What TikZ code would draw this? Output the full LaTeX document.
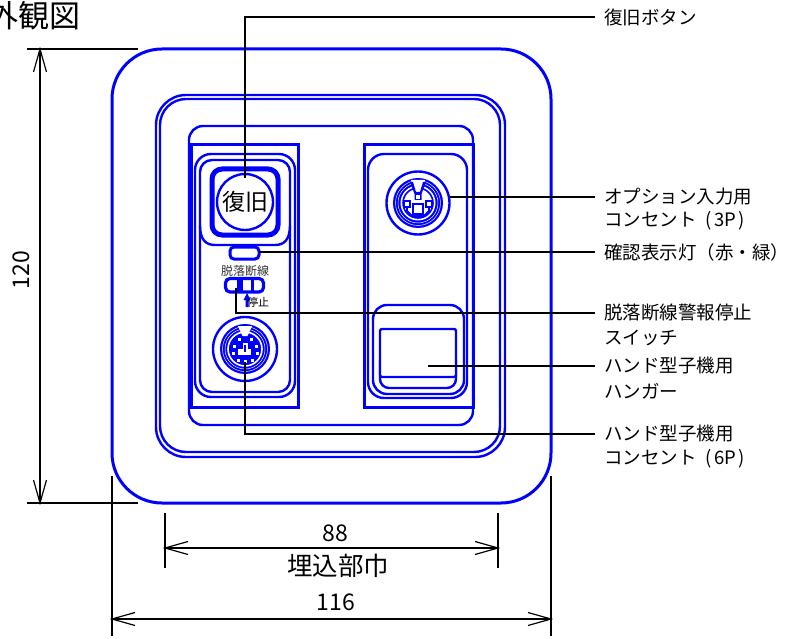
\documentclass[tikz,border=0pt]{standalone}
\usepackage{fontspec}
\setmainfont{Noto Sans CJK JP}
\tikzset{
 blue1/.style={draw=blue,line width=2.4pt},
 blue2/.style={draw=blue,line width=3pt},
 ld/.style={draw=black,line width=1.2pt},
 dim/.style={draw=black,line width=1.2pt},
 lbl/.style={anchor=west,inner xsep=9pt,inner ysep=0pt,font=\fontsize{18.5}{20}\selectfont,text=black},
 dimt/.style={inner sep=0pt,font=\fontsize{23}{25}\selectfont,text=black},
}
\newcommand{\hw}[1]{\makebox[11pt]{#1}}
\newcommand{\openhead}[4]{% tip x,y, dir x,y
 \draw[dim] (#1+23*#3+6.5*#4,#2+23*#4+6.5*#3) -- (#1,#2) -- (#1+23*#3-6.5*#4,#2+23*#4-6.5*#3);}
\newcommand{\rrect}[6]{\draw[#1,rounded corners=#6] (#2,#3) rectangle (#4,#5);}
\begin{document}
\begin{tikzpicture}[x=1pt,y=-1pt]
\useasboundingbox (0,0) rectangle (792,639);
\clip (0,0) rectangle (792,639);
\fill[white] (0,0) rectangle (792,639);
% title
\node[inner sep=0pt,font=\fontsize{31}{33}\selectfont] (title) at (34,16) {外観図};
% body
\rrect{blue2}{112}{49}{551}{503}{50pt}
\rrect{blue1}{156}{95}{505}{457}{30pt}
\rrect{blue1}{160}{99}{500}{452}{26pt}
\rrect{blue1}{189}{126}{473}{425}{14pt}
\draw[blue2] (191,145) rectangle (298,407);
\draw[blue2] (364,145) rectangle (473,407);
% left inner
\rrect{blue1}{195}{154}{295}{397}{16pt}
\rrect{blue1}{200}{160}{290}{392}{12pt}
\draw[blue1] (200,225) .. controls (200,240) and (206,245) .. (215,245) -- (275,245) .. controls (284,245) and (290,240) .. (290,225);
% button
\draw[draw=blue,line width=5pt,rounded corners=10pt] (212,169) rectangle (278,235);
\fill[white] (245,202) circle (28);
\draw[blue1] (245,202) circle (28);
\node[inner sep=0pt,font=\fontsize{23}{25}\selectfont] (btn) at (245,202) {復旧};
% lamp
\draw[blue2,rounded corners=4pt] (230,247) rectangle (259,259);
\coordinate (lampR) at (259,252);
\node[inner sep=0pt,font=\fontsize{12}{13}\selectfont,text=black!80] (dl) at (245,271) {脱落断線};
% switch
\fill[blue] (237,279) rectangle (243,291);
\fill[blue] (251,279) rectangle (254,291);
\draw[draw=blue,line width=3.2pt,rounded corners=4.5pt] (225.5,278.5) rectangle (263.5,292);
\fill[blue] (247,293) -- (250.5,300) -- (248.5,300) -- (248.5,307) -- (245.5,307) -- (245.5,300) -- (243.5,300) -- cycle;
\node[inner sep=0pt,font=\fontsize{11}{12}\selectfont,text=black] (stp) at (258,302) {停止};
% 6P connector
\begin{scope}[shift={(245,349)}]
 \draw[blue1] (0,0) circle (32);
 \fill[blue] (0,0) circle (25);
 \foreach \r in {22.5,20}{\draw[draw=white,line width=.45pt] (0,0) circle (\r);}
 \draw[draw=white,line width=1.6pt] (0,0) circle (17);
 \fill[white] (-7,-23) -- (7,-23) -- (2.5,-13) -- (-2.5,-13) -- cycle;
 \foreach \x/\y in {-11/-3,11/-3,-12/4,12/4,-7/11,7/11,0/12,-6/-10,6/-10}{\fill[white] (\x-1.5,\y-1.5) rectangle (\x+1.5,\y+1.5);}
 \fill[white] (-7,0) rectangle (6,6);
 \fill[white] (-2.5,-6) rectangle (2.5,0);
 \fill[blue] (-1,-4.5) rectangle (1,2.5);
\end{scope}
% right inner
\rrect{blue1}{368}{154}{467}{398}{16pt}
\begin{scope}[shift={(418,203)}]
 \draw[blue1] (0,0) circle (31.5);
 \fill[blue] (0,0) circle (25);
 \foreach \r in {22.5,20}{\draw[draw=white,line width=.45pt] (0,0) circle (\r);}
 \fill[white] (0,0) circle (17.5);
 \draw[draw=blue,line width=1.6pt] (0,0) circle (15);
 \fill[white] (-7,-23) -- (7,-23) -- (3,-11) -- (-3,-11) -- cycle;
 \fill[blue] (-8,-21) -- (-3.5,-9) -- (-3.5,-3) -- (3.5,-3) -- (3.5,-9) -- (8,-21) -- (5,-21) -- (2,-11) -- (-2,-11) -- (-5,-21) -- cycle;
 \fill[white] (-2,-8) rectangle (2,-4);
 \draw[draw=blue,line width=2pt] (-5,1) rectangle (5,11);
 \draw[draw=blue,line width=2pt] (-14,-2) rectangle (-8,4);
 \draw[draw=blue,line width=2pt] (8,-2) rectangle (14,4);
 \draw[draw=blue,line width=1.8pt] (-11,4) -- (-11,8) -- (-6,13) -- (6,13) -- (11,8) -- (11,4);
\end{scope}
% hanger
\rrect{blue1}{373}{305}{464}{394}{14pt}
\draw[blue1,rounded corners=9pt] (380,360) -- (380,388) -- (456,388) -- (456,360);
\draw[blue1,fill=white,rounded corners=2pt] (380,377) -- (380,329) -- (456,329) -- (456,377) -- cycle;
% labels
\node[lbl] (l1) at (595,17) {復旧ボタン};
\node[lbl] (l2) at (595,197) {オプション入力用};
\node[lbl] (l2b) at (595,221) {コンセント\hspace{6pt}\hw{(}\hw{3}\hw{P}\hw{)}};
\node[lbl] (l3) at (595,252) {確認表示灯\symbol{"FF08}赤・緑\symbol{"FF09}};
\node[lbl] (l4) at (595,313) {脱落断線警報停止};
\node[lbl] (l4b) at (595,338) {スイッチ};
\node[lbl] (l5) at (595,366) {ハンド型子機用};
\node[lbl] (l5b) at (595,391) {ハンガー};
\node[lbl] (l6) at (595,434) {ハンド型子機用};
\node[lbl] (l6b) at (595,459) {コンセント\hspace{6pt}\hw{(}\hw{6}\hw{P}\hw{)}};
% leaders
\coordinate (a1) at (245,178);
\coordinate (a2) at (450,197);
\coordinate (a4) at (236,288);
\coordinate (a5) at (428,366);
\coordinate (a6) at (245,362);
\draw[ld] (a1) |- (l1.west);
\draw[ld] (a2) -- (l2.west);
\draw[ld] (lampR) -- (l3.west);
\draw[ld] (a4) |- (l4.west);
\draw[ld] (a5) -- (l5.west);
\draw[ld] (a6) |- (l6.west);
% dims
\draw[dim,line width=1.6pt] (27,49) -- (138,49) (27,503) -- (138,503);
\draw[dim] (40,49) -- (40,503);
\openhead{40}{49}{0}{1}
\openhead{40}{503}{0}{-1}
\node[dimt,rotate=90] (d120) at (21,270) {120};
\draw[dim] (165,513) -- (165,568) (498,513) -- (498,568);
\draw[dim] (165,548) -- (498,548);
\openhead{165}{548}{1}{0}
\openhead{498}{548}{-1}{0}
\node[dimt] (d88) at (335,533) {88};
\node[dimt,font=\fontsize{25.5}{27}\selectfont] (umekomi) at (338,566) {埋込部巾};
\draw[dim] (112,476) -- (112,636) (551,476) -- (551,636);
\draw[dim] (112,619) -- (551,619);
\openhead{112}{619}{1}{0}
\openhead{551}{619}{-1}{0}
\node[dimt] (d116) at (336,602) {116};
\end{tikzpicture}
\end{document}
